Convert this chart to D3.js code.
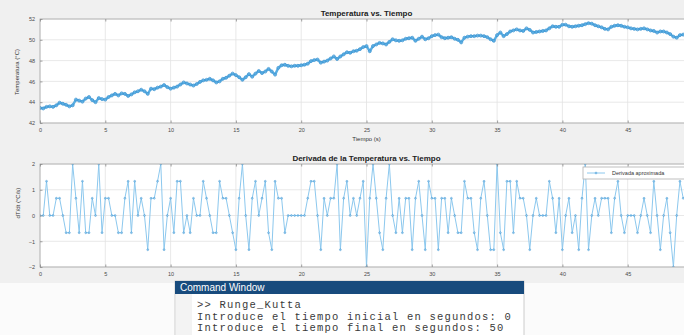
<!DOCTYPE html>
<html>
<head>
<meta charset="utf-8">
<script src="https://cdn.jsdelivr.net/npm/d3@7"></script>
<style>
  html, body { margin: 0; padding: 0; background: #ffffff; overflow: hidden; }
  svg { display: block; }
</style>
</head>
<body>
<svg id="fig" width="684" height="335"></svg>
<script>
// Sample period of the logged signals (s)
const sampleStep = 0.25;

// Time-axis ticks (s) shown inside the 0–50 s window
const timeTicks = [0, 5, 10, 15, 20, 25, 30, 35, 40, 45];
const tempTicks = [42, 44, 46, 48, 50, 52];
const derivTicks = [-2, -1, 0, 1, 2];

// Temperature readings (°C), one every sampleStep seconds, t = 0 … 50 s
const temperature = [
  43.45,43.40,43.55,43.60,43.55,43.70,43.95,43.85,43.75,43.60,43.70,44.25,44.15,44.05,44.35,44.50,44.20,44.00,44.40,44.30,
  44.25,44.50,44.65,44.80,44.65,44.85,44.80,44.60,44.75,44.95,45.05,45.20,45.05,44.80,45.30,45.25,45.40,45.50,45.65,45.45,
  45.30,45.40,45.50,45.70,45.90,45.80,45.70,45.60,45.75,45.95,46.10,46.15,46.25,46.10,45.90,46.00,46.25,46.35,46.55,46.75,
  46.60,46.40,46.15,46.40,46.70,46.45,46.75,47.00,46.80,46.95,47.20,46.95,46.65,47.30,47.55,47.60,47.50,47.45,47.50,47.50,
  47.55,47.60,47.70,47.95,48.05,48.10,47.80,47.90,48.00,48.20,48.40,48.15,48.40,48.60,48.80,48.75,48.90,48.95,49.10,49.30,
  49.40,48.90,49.40,49.55,49.70,49.65,49.55,49.80,50.05,49.95,49.90,49.95,50.10,50.15,50.20,49.90,50.10,50.30,50.05,50.15,
  50.35,50.45,50.50,50.25,50.15,50.20,50.25,50.10,50.00,49.75,50.20,50.30,50.35,50.35,50.40,50.40,50.35,50.25,50.05,49.90,
  50.45,50.70,50.35,50.55,50.80,50.90,51.00,50.90,50.85,51.10,50.95,50.70,50.75,50.80,50.85,50.90,51.10,51.30,51.25,51.25,
  51.45,51.45,51.30,51.25,51.30,51.35,51.40,51.50,51.60,51.55,51.40,51.30,51.20,51.05,51.00,51.25,51.35,51.40,51.35,51.25,
  51.20,51.10,51.05,51.00,51.05,51.10,51.00,50.90,50.85,50.70,50.80,50.80,50.70,50.55,50.30,50.20,50.45,50.50,50.55,50.45,
  50.50
];

// Approximate derivative dT/dt (°C/s), one every sampleStep seconds
const derivative = [
  0,0,1.33,0,0,0.67,0.67,0,-0.67,-0.67,2,0.67,-0.67,1.33,-0.67,-0.67,0.67,0,2,-0.67,
  0.67,0.67,0,0,-0.67,-0.67,0.67,1.33,-0.67,1.33,0,0.67,0,-1.33,0.67,0.67,1.33,2,-1.33,0,
  0.67,-0.67,1.33,1.33,-0.67,0,-0.67,0.67,0,0,1.33,0.67,0,-0.67,-0.67,1.33,0.67,0.67,0,-0.67,
  -1.33,0.67,2,0,-1.33,0.67,1.33,0,0.67,1.33,-0.67,-1.33,1.33,0.67,0.67,-0.67,0,0,0,0,
  0,0,0.67,1.33,1.33,0,-1.33,0.67,0,0.67,0.67,2,-1.33,0.67,1.33,0,0.67,0,0.67,1.33,
  -2,0.67,2,0.67,-0.67,-1.33,0.67,2,0,-0.67,0.67,-0.67,0.67,0.67,-1.33,0.67,1.33,0,-1.33,1.33,
  0.67,0.67,-1.33,0.67,0.67,-0.67,0.67,0,-0.67,-0.67,1.33,0.67,0.67,-0.67,-1.33,0.67,1.33,0,-1.33,-1.33,
  2,-0.67,-1.33,1.33,1.33,-0.67,1.33,0.67,0.67,0,-1.33,0,0.67,0,0,0,1.33,0.67,-0.67,0.67,
  -1.33,0,0.67,-0.67,0,-1.33,0.67,2,-1.33,0,0.67,0,0.67,0.67,0.67,-0.67,0.67,1.33,0,-0.67,
  0,0,0,-0.67,0,0.67,0,-0.67,1.33,0,-1.33,0,0.67,-0.67,-2,0,1.33,0.67,0.67,0
];

const consoleLines = [
  ">> Runge_Kutta",
  "Introduce el tiempo inicial en segundos: 0",
  "Introduce el tiempo final en segundos: 50"
];

const tempSeries = temperature.map((v, i) => ({ t: i * sampleStep, v }));
const derivSeries = derivative.map((v, i) => ({ t: i * sampleStep, v }));

const svg = d3.select("#fig");
const FONT = "'Liberation Sans', Arial, Helvetica, sans-serif";

// figure background
svg.append("rect").attr("x", 0).attr("y", 0).attr("width", 684).attr("height", 283).attr("fill", "#f0f0f0");
svg.append("rect").attr("x", 0).attr("y", 283).attr("width", 684).attr("height", 52).attr("fill", "#fbfbfb");

const x = d3.scaleLinear().domain([0, 50]).range([40, 693]);

function drawPanel(cfg) {
  const y = d3.scaleLinear().domain(cfg.domain).range([cfg.bottom, cfg.top]);
  const g = svg.append("g");
  const clipId = "clip-" + cfg.id;
  svg.append("clipPath").attr("id", clipId)
    .append("rect").attr("x", x(0)).attr("y", cfg.top).attr("width", x(50) - x(0)).attr("height", cfg.bottom - cfg.top);

  // plot area
  g.append("rect").attr("x", x(0)).attr("y", cfg.top)
    .attr("width", x(50) - x(0)).attr("height", cfg.bottom - cfg.top)
    .attr("fill", "#ffffff");

  // grid
  g.append("g").selectAll("line").data(timeTicks).join("line")
    .attr("x1", d => x(d)).attr("x2", d => x(d))
    .attr("y1", cfg.top).attr("y2", cfg.bottom)
    .attr("stroke", "#e2e2e2").attr("stroke-width", 0.8);
  g.append("g").selectAll("line").data(cfg.ticks).join("line")
    .attr("x1", x(0)).attr("x2", x(50))
    .attr("y1", d => y(d)).attr("y2", d => y(d))
    .attr("stroke", "#e2e2e2").attr("stroke-width", 0.8);

  // data
  const line = d3.line().x(d => x(d.t)).y(d => y(d.v));
  const dg = g.append("g").attr("clip-path", `url(#${clipId})`);
  dg.append("path").datum(cfg.series)
    .attr("d", line).attr("fill", "none")
    .attr("stroke", cfg.lineColor).attr("stroke-width", cfg.lineWidth)
    .attr("stroke-linejoin", "round");
  dg.append("g").selectAll("circle").data(cfg.series).join("circle")
    .attr("cx", d => x(d.t)).attr("cy", d => y(d.v)).attr("r", cfg.markerR)
    .attr("fill", "none").attr("stroke", cfg.markerColor).attr("stroke-width", cfg.markerW);

  // box
  g.append("rect").attr("x", x(0)).attr("y", cfg.top)
    .attr("width", x(50) - x(0)).attr("height", cfg.bottom - cfg.top)
    .attr("fill", "none").attr("stroke", "#a8a8a8").attr("stroke-width", 0.8);

  // axes (inward ticks)
  const xa = g.append("g").attr("transform", `translate(0,${cfg.bottom})`)
    .call(d3.axisBottom(x).tickValues(timeTicks).tickSizeInner(-2.5).tickSizeOuter(0).tickPadding(5));
  const xt = g.append("g").attr("transform", `translate(0,${cfg.top})`)
    .call(d3.axisTop(x).tickValues(timeTicks).tickSizeInner(-2.5).tickSizeOuter(0).tickFormat(""));
  const ya = g.append("g").attr("transform", `translate(${x(0)},0)`)
    .call(d3.axisLeft(y).tickValues(cfg.ticks).tickSizeInner(-2.5).tickSizeOuter(0).tickPadding(5).tickFormat(d3.format("d")));
  [xa, xt, ya].forEach(a => {
    a.select(".domain").remove();
    a.selectAll(".tick line").attr("stroke", "#8a8a8a").attr("stroke-width", 0.8);
    a.selectAll("text").attr("font-family", FONT).attr("font-size", 5.5).attr("fill", "#4a4a4a");
  });

  // title
  svg.append("text").attr("x", (x(0) + x(50)) / 2).attr("y", cfg.top - 3)
    .attr("text-anchor", "middle").attr("font-family", FONT).attr("font-weight", "bold")
    .attr("font-size", 8).attr("fill", "#222").text(cfg.title);

  // y label
  svg.append("text").attr("transform", `translate(${cfg.ylabelX},${cfg.ylabelY}) rotate(-90)`)
    .attr("text-anchor", "middle").attr("font-family", FONT).attr("font-size", 6)
    .attr("fill", "#333").text(cfg.ylabel);

  if (cfg.xlabel) {
    svg.append("text").attr("x", (x(0) + x(50)) / 2).attr("y", cfg.bottom + 18)
      .attr("text-anchor", "middle").attr("font-family", FONT).attr("font-size", 6)
      .attr("fill", "#333").text(cfg.xlabel);
  }
  return { g, y };
}

drawPanel({
  id: "temp", top: 19, bottom: 123, domain: [42, 52], ticks: tempTicks,
  series: tempSeries, lineColor: "#5aaee2", lineWidth: 2.4,
  markerR: 1.5, markerColor: "#3f96d3", markerW: 0.8,
  title: "Temperatura vs. Tiempo", ylabel: "Temperatura (°C)", ylabelX: 19, ylabelY: 72,
  xlabel: "Tiempo (s)"
});

drawPanel({
  id: "deriv", top: 164, bottom: 267, domain: [-2, 2], ticks: derivTicks,
  series: derivSeries, lineColor: "#8cc8ee", lineWidth: 1,
  markerR: 0.9, markerColor: "#4d9fd8", markerW: 0.7,
  title: "Derivada de la Temperatura vs. Tiempo", ylabel: "dT/dt (°C/s)", ylabelX: 20, ylabelY: 203
});

// legend
const lg = svg.append("g");
lg.append("rect").attr("x", 583).attr("y", 167).attr("width", 110).attr("height", 12)
  .attr("fill", "#ffffff").attr("stroke", "#b0b0b0").attr("stroke-width", 0.8);
lg.append("line").attr("x1", 587).attr("x2", 605).attr("y1", 173).attr("y2", 173)
  .attr("stroke", "#8cc8ee").attr("stroke-width", 1);
lg.append("circle").attr("cx", 596).attr("cy", 173).attr("r", 0.9)
  .attr("fill", "none").attr("stroke", "#4d9fd8").attr("stroke-width", 0.7);
lg.append("text").attr("x", 612).attr("y", 175).attr("font-family", FONT)
  .attr("font-size", 5.5).attr("fill", "#333").text("Derivada aproximada");

// command window
const cw = svg.append("g");
cw.append("rect").attr("x", 175).attr("y", 281).attr("width", 349).attr("height", 60)
  .attr("fill", "#ffffff").attr("stroke", "#c0c0c0").attr("stroke-width", 0.8);
cw.append("rect").attr("x", 176).attr("y", 294).attr("width", 16).attr("height", 45).attr("fill", "#f3f3f3");
cw.append("rect").attr("x", 175).attr("y", 281).attr("width", 349).attr("height", 13).attr("fill", "#184b7d");
cw.append("text").attr("x", 180).attr("y", 291).attr("font-family", FONT).attr("font-size", 10)
  .attr("fill", "#ffffff").text("Command Window");
cw.selectAll("text.line").data(consoleLines).join("text").attr("class", "line")
  .attr("x", 197).attr("y", (d, i) => 308 + i * 11.5)
  .attr("font-family", "'Liberation Mono', 'DejaVu Sans Mono', monospace").attr("font-size", 10.5)
  .attr("letter-spacing", 1.2)
  .attr("fill", "#3a3a3a").attr("xml:space", "preserve").text(d => d);
</script>
</body>
</html>
